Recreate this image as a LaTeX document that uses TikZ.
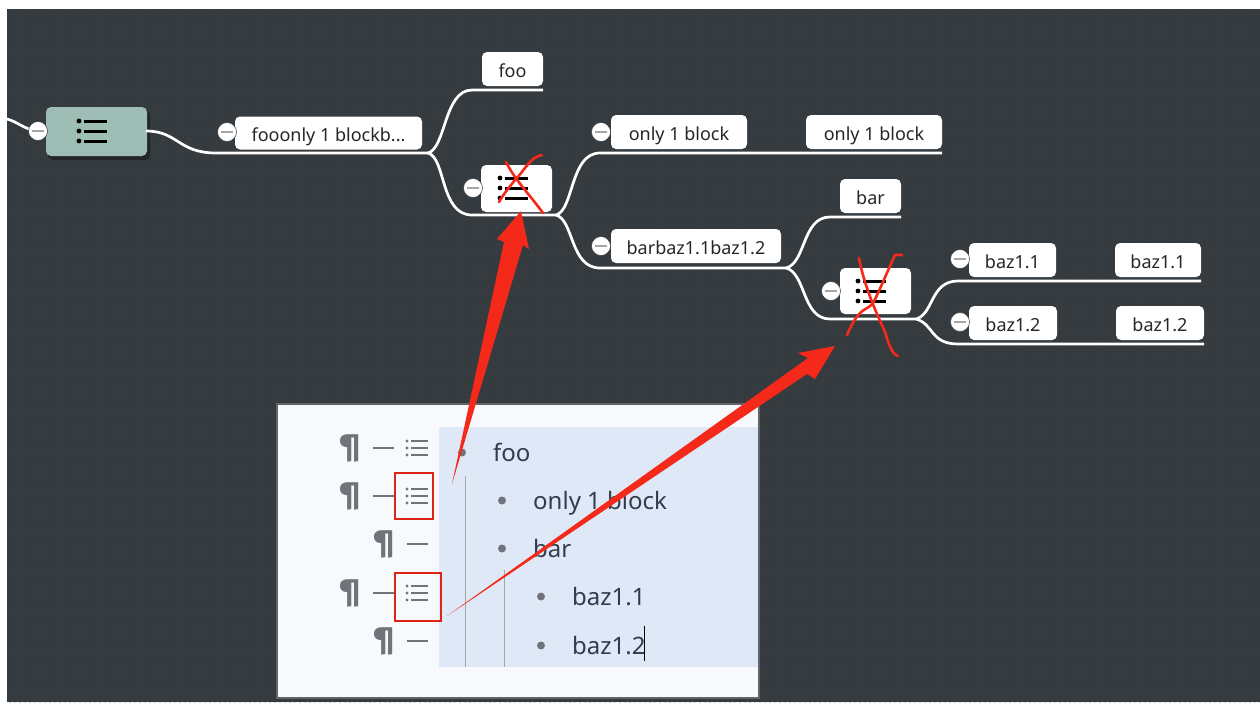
\documentclass[tikz,border=0pt]{standalone}
\usepackage{fontspec}
\setmainfont{Noto Sans}
\newfontfamily\paraFont{Fira Sans}
\usetikzlibrary{calc}
\usetikzlibrary{patterns}

\definecolor{boardBg}{HTML}{353B3F}
\definecolor{boardDot}{HTML}{2F3438}
\definecolor{rootFill}{HTML}{9DBDB5}
\definecolor{panelBg}{HTML}{F7F9FC}
\definecolor{panelEdge}{HTML}{5F6569}
\definecolor{selectBg}{HTML}{DFE8F7}
\definecolor{inkRed}{HTML}{F5291A}
\definecolor{gutterGrey}{HTML}{6E7479}
\definecolor{bodyInk}{HTML}{343B4A}

\pgfdeclarepatternformonly{boardDots}{\pgfqpoint{-1pt}{-1pt}}{\pgfqpoint{1pt}{1pt}}{\pgfqpoint{5pt}{5pt}}{%
	\pgfpathcircle{\pgfqpoint{0pt}{0pt}}{0.7pt}\pgfusepath{fill}}

\tikzset{
	branch/.style = {line width=2.7pt, draw=white},
	tag/.style = {fill=white, rounded corners=5pt, inner sep=0pt, text=black!85, text height=17pt, text depth=0pt, font=\fontsize{18}{18}\selectfont},
	toggle/.style = {circle, fill=white, draw=boardBg, line width=0.5pt, minimum size=19pt, inner sep=0pt},
	slash/.style = {line width=2.6pt, draw=inkRed, line cap=round, line join=round},
	arrowFill/.style = {fill=inkRed, draw=none},
	row/.style = {font=\fontsize{24}{24}\selectfont, text=bodyInk, anchor=base west, inner sep=0pt},
	para/.style = {font=\fontsize{30}{30}\paraFont\bfseries, text=gutterGrey, inner sep=0pt},
	redBox/.style = {draw=inkRed!90!black, line width=2.6pt},
	listIcon/.pic = {
		\foreach \yy in {-10,0,10} {
			\fill[black] (-13,\yy) circle (2.4);
			\draw[black, line width=3pt] (-8,\yy) -- (15,\yy);
		}
	},
	gutterIcon/.pic = {
		\foreach \yy in {-7,0,7} {
			\fill[gutterGrey] (-10,\yy) circle (1.7);
			\draw[gutterGrey, line width=2.2pt] (-6,\yy) -- (11,\yy);
		}
	}
}

\begin{document}
\begin{tikzpicture}[x=1pt,y=-1pt]
	\useasboundingbox (0,0) rectangle (1260,702);
	\fill[white] (0,0) rectangle (1260,702);
	\fill[boardBg] (7,9) rectangle (1260,702);
	\fill[pattern=boardDots, pattern color=boardDot] (7,9) rectangle (1260,702);
	% mind map nodes
	\fill[black!35!boardBg, rounded corners=5pt] (48,110) rectangle (150,160);
	\node[tag, fill=rootFill, minimum width=101pt, minimum height=49pt] (root) at (96.5,131.5) {};
	\node[tag, minimum width=187pt, minimum height=33pt] (fooLabel) at (328.5,133) {fooonly 1 blockb...};
	\node[tag, minimum width=61pt, minimum height=34pt] (foo) at (512.5,69) {foo};
	\node[tag, minimum width=71pt, minimum height=47pt] (listA) at (516.5,188.5) {};
	\node[tag, minimum width=136pt, minimum height=34pt] (onlyA) at (679,132) {only 1 block};
	\node[tag, minimum width=136pt, minimum height=34pt] (onlyB) at (874,132) {only 1 block};
	\node[tag, minimum width=170pt, minimum height=34pt] (barLabel) at (696,246) {barbaz1.1baz1.2};
	\node[tag, minimum width=61pt, minimum height=34pt] (bar) at (870.5,196) {bar};
	\node[tag, minimum width=71pt, minimum height=46pt] (listB) at (875.5,291) {};
	\node[tag, minimum width=87pt, minimum height=34pt] (bazA) at (1012.5,260) {baz1.1};
	\node[tag, minimum width=86pt, minimum height=34pt] (bazB) at (1158,260) {baz1.1};
	\node[tag, minimum width=88pt, minimum height=34pt] (bazC) at (1013,323) {baz1.2};
	\node[tag, minimum width=88pt, minimum height=34pt] (bazD) at (1160,323) {baz1.2};
	% forks and line ends
	\coordinate (forkFoo) at (428,153);
	\coordinate (forkList) at (556,215);
	\coordinate (forkBar) at (786,268);
	\coordinate (forkBaz) at (916,319);
	\coordinate (rootIn) at (7,119);
	\coordinate (rootOut) at (146,131);
	\coordinate (endFoo) at (543,90);
	\coordinate (endOnly) at (942,153);
	\coordinate (endBar) at (901,217);
	\coordinate (endBazA) at (1201,281);
	\coordinate (endBazB) at (1204,344);
	% branches
	\draw[branch] (rootIn) .. controls (18,122) and (22,128) .. (36,131);
	\draw[branch] (rootOut) .. controls (178,131) and (178,153) .. (216,153) -- (forkFoo);
	\draw[branch] (forkFoo) .. controls (446,148) and (444,90) .. (472,90) -- (endFoo);
	\draw[branch] (forkFoo) .. controls (446,158) and (440,215) .. (472,215) -- (forkList);
	\draw[branch] (forkList) .. controls (574,210) and (570,153) .. (600,153) -- (endOnly);
	\draw[branch] (forkList) .. controls (574,220) and (570,268) .. (600,268) -- (forkBar);
	\draw[branch] (forkBar) .. controls (806,263) and (802,217) .. (830,217) -- (endBar);
	\draw[branch] (forkBar) .. controls (806,273) and (802,319) .. (830,319) -- (forkBaz);
	\draw[branch] (forkBaz) .. controls (934,314) and (930,281) .. (958,281) -- (endBazA);
	\draw[branch] (forkBaz) .. controls (934,324) and (930,344) .. (958,344) -- (endBazB);
	% collapse toggles
	\foreach \name/\xx/\yy in {rootT/38/131, fooT/227/132, listAT/473/188, onlyT/601/132, barT/601/246, listBT/831/291, bazAT/960/259, bazCT/960/322} {
		\node[toggle] (\name) at (\xx,\yy) {};
		\draw[gray!70, line width=1.2pt] ($(\name)+(-6,0)$) -- ($(\name)+(6,0)$);
	}
	% list icons
	\pic at (92,131) {listIcon};
	\pic at (513,188) {listIcon};
	\pic at (871,291) {listIcon};
	% hand drawn crosses
	\draw[slash] (506,162) .. controls (515,180) and (530,195) .. (543,213);
	\draw[slash] (542,155) .. controls (530,157) and (525,170) .. (515,180) .. controls (507,190) and (503,195) .. (499,202);
	\draw[slash] (859,258) .. controls (864,285) and (875,310) .. (885,332) .. controls (889,345) and (892,354) .. (898,356);
	\draw[slash] (902,255) -- (895,255) .. controls (887,272) and (880,290) .. (873,303) .. controls (866,312) and (860,305) .. (847,335);
	% editor panel
	\draw[fill=panelBg, draw=panelEdge, line width=2.4pt] (277,404) rectangle (759,698);
	\fill[selectBg] (439,427) rectangle (757.5,667);
	\draw[gray!70, line width=0.8pt] (465,476) -- (465,667);
	\draw[gray!70, line width=0.8pt] (504,570) -- (504,667);
	% gutter
	\foreach \name/\xx/\yy in {paraA/350/448, paraB/350/496, paraC/384/544, paraD/350/593, paraE/384/641} {
		\node[para] (\name) at (\xx,\yy) {¶};
		\draw[gutterGrey, line width=2.4pt] ($(\name)+(23,0)$) -- ($(\name)+(44,0)$);
	}
	\pic at (417,448) {gutterIcon};
	\pic at (417,496) {gutterIcon};
	\pic at (417,593) {gutterIcon};
	\draw[redBox] (395,473) rectangle (433,519);
	\draw[redBox] (395,573) rectangle (441,621);
	% outline rows
	\foreach \name/\xx/\yy/\txt in {rowA/493/461/foo, rowB/533/509/only 1 block, rowC/533/557/bar, rowD/572/605/baz1.1, rowE/572/654/baz1.2} {
		\node[row] (\name) at (\xx,\yy) {\txt};
		\fill[gutterGrey] ($(\name.base west)+(-31,-8.5)$) circle (4);
	}
	\draw[black, line width=1pt] (644,626) -- (644,661);
	% red arrows
	\fill[arrowFill] (452,484) -- (504,242) -- (497,239) -- (521,211) -- (529,249) -- (523,245) -- cycle;
	\fill[arrowFill] (447,616) -- (808,358) -- (798,353) -- (835,346) -- (815,379) -- (807,374) -- cycle;
\end{tikzpicture}
\end{document}
